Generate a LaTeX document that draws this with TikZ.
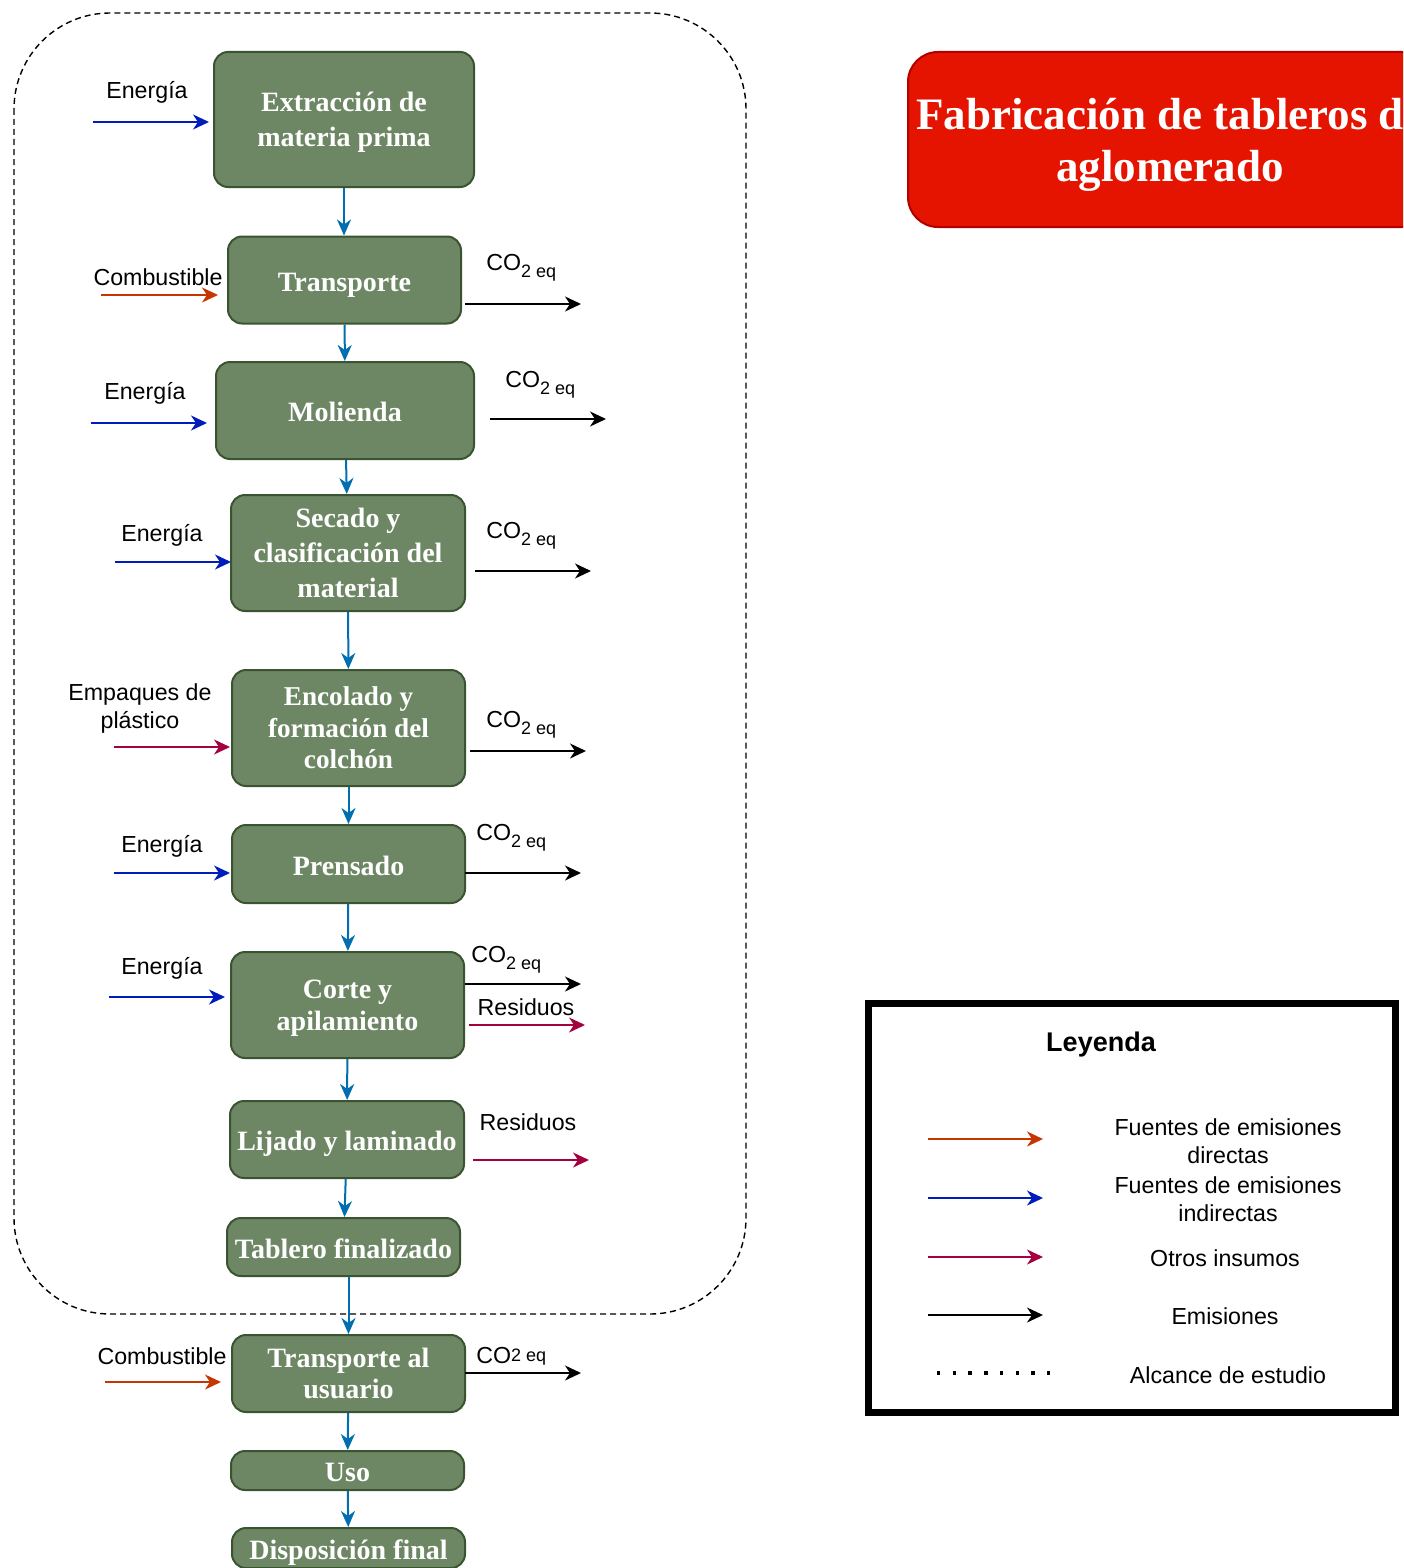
\documentclass[tikz,border=0pt]{standalone}
\usepackage{fontspec}
\setmainfont{Liberation Serif}
\newfontfamily\labelfont{Liberation Sans}
\usetikzlibrary{positioning}
\usetikzlibrary{arrows.meta}

\definecolor{boxfill}{HTML}{6D8764}
\definecolor{boxline}{HTML}{3A5431}
\definecolor{flowblue}{HTML}{006EAF}
\definecolor{energyblue}{HTML}{001DBC}
\definecolor{fuelorange}{HTML}{C73500}
\definecolor{otherred}{HTML}{A50040}
\definecolor{titlered}{HTML}{E51400}
\definecolor{titleline}{HTML}{B20000}

\newcommand{\coeq}{CO\raisebox{-3.5pt}{\fontsize{9}{9}\selectfont 2 eq}}

\begin{document}
\begin{tikzpicture}[x=0.5pt, y=-0.5pt,
		procbox/.style={draw=boxline, fill=boxfill, line width=1pt, rounded corners=7pt,
			inner sep=0pt, align=center, text=white, text depth=0pt,
			font=\fontsize{14}{15.75}\selectfont\bfseries},
		oneline/.style={text height=11pt},
		lbl/.style={align=center, inner sep=0pt, font=\labelfont\fontsize{11.6}{14}\selectfont},
		flow/.style={draw=flowblue, line width=1pt, -{Stealth[length=8pt, width=7pt, inset=2.5pt]}},
		feed/.style={line width=1pt, -{Stealth[length=8pt, width=7.5pt, inset=2.5pt]}}
	]
	\useasboundingbox (0,0) rectangle (1403,1568);

	\draw[line width=0.7pt, dash pattern=on 3pt off 2pt, rounded corners=48pt] (14,13) rectangle (746,1314);

	\begin{scope}
		\clip (0,0) rectangle (1403,1568);
		\node[draw=titleline, fill=titlered, line width=1pt, rounded corners=15pt, minimum width=262pt, minimum height=87.5pt,
			align=center, text=white, text depth=0pt, font=\fontsize{22.5}{26}\selectfont\bfseries] (title) at (1170,139.5)
			{Fabricación de tableros de\\aglomerado};
	\end{scope}

	\node[procbox, minimum width=130pt, minimum height=67.5pt, font=\fontsize{14}{17.5}\selectfont\bfseries] (ext) at (344,119.5) {Extracción de\\materia prima};
	\node[procbox, oneline, minimum width=116.5pt, minimum height=43.5pt] (trans) at (344.5,280) {Transporte};
	\node[procbox, oneline, minimum width=129pt, minimum height=48.5pt] (mol) at (345,410.5) {Molienda};
	\node[procbox, minimum width=117pt, minimum height=58pt, font=\fontsize{14}{17.5}\selectfont\bfseries] (sec) at (348,553) {Secado y\\clasificación del\\material};
	\node[procbox, minimum width=116.5pt, minimum height=58pt, font=\fontsize{13.6}{15.75}\selectfont\bfseries] (enc) at (348.5,728) {Encolado y\\formación del\\colchón};
	\node[procbox, oneline, minimum width=116.5pt, minimum height=39pt] (pren) at (348.5,864) {Prensado};
	\node[procbox, minimum width=116.5pt, minimum height=53pt] (corte) at (347.5,1005) {Corte y\\apilamiento};
	\node[procbox, oneline, minimum width=117pt, minimum height=38.5pt] (lij) at (347,1139.5) {Lijado y laminado};
	\node[procbox, oneline, minimum width=116.5pt, minimum height=29pt] (tab) at (343.5,1247) {Tablero finalizado};
	\node[procbox, minimum width=116.5pt, minimum height=38.5pt] (transu) at (348.5,1373.5) {Transporte al\\usuario};
	\node[procbox, oneline, minimum width=116.5pt, minimum height=19.5pt] (uso) at (347.5,1470.5) {Uso};
	\node[procbox, oneline, minimum width=116.5pt, minimum height=20pt] (disp) at (348.5,1548) {Disposición final};

	\draw[flow] (ext.south) -- (trans.north -| ext.south);
	\draw[flow] (trans) -- (mol);
	\draw[flow] (mol) -- (sec);
	\draw[flow] (sec) -- (enc);
	\draw[flow] (enc) -- (pren);
	\draw[flow] (pren) -- (corte);
	\draw[flow] (corte) -- (lij);
	\draw[flow] (lij) -- (tab);
	\draw[flow] (tab.south -| transu.north) -- (transu.north);
	\draw[flow] (transu) -- (uso);
	\draw[flow] (uso) -- (disp);

	\node[lbl] (l1) at (147,92) {Energía};
	\node[lbl] (l2) at (158,277) {Combustible};
	\node[lbl] (l3) at (145,393) {Energía};
	\node[lbl] (l4) at (162,535) {Energía};
	\node[lbl] (l5) at (140,708) {Empaques de\\plástico};
	\node[lbl] (l6) at (162,846) {Energía};
	\node[lbl] (l7) at (162,968) {Energía};
	\node[lbl] (l8) at (162,1356) {Combustible};

	\node[shape=coordinate] (i1a) at (93,122) {};
	\node[shape=coordinate] (i1b) at (209,122) {};
	\node[shape=coordinate] (i2a) at (101,295) {};
	\node[shape=coordinate] (i2b) at (218,295) {};
	\node[shape=coordinate] (i3a) at (91,423) {};
	\node[shape=coordinate] (i3b) at (207,423) {};
	\node[shape=coordinate] (i4a) at (115,562) {};
	\node[shape=coordinate] (i4b) at (231,562) {};
	\node[shape=coordinate] (i5a) at (114,747) {};
	\node[shape=coordinate] (i5b) at (230,747) {};
	\node[shape=coordinate] (i6a) at (114,873) {};
	\node[shape=coordinate] (i6b) at (230,873) {};
	\node[shape=coordinate] (i7a) at (109,997) {};
	\node[shape=coordinate] (i7b) at (225,997) {};
	\node[shape=coordinate] (i8a) at (105,1382) {};
	\node[shape=coordinate] (i8b) at (221,1382) {};

	\draw[feed, energyblue] (i1a) -- (i1b);
	\draw[feed, fuelorange] (i2a) -- (i2b);
	\draw[feed, energyblue] (i3a) -- (i3b);
	\draw[feed, energyblue] (i4a) -- (i4b);
	\draw[feed, otherred] (i5a) -- (i5b);
	\draw[feed, energyblue] (i6a) -- (i6b);
	\draw[feed, energyblue] (i7a) -- (i7b);
	\draw[feed, fuelorange] (i8a) -- (i8b);

	\node[lbl, anchor=west] (co1) at (486,268) {\coeq};
	\node[lbl, anchor=west] (co2) at (505,385) {\coeq};
	\node[lbl, anchor=west] (co3) at (486,536) {\coeq};
	\node[lbl, anchor=west] (co4) at (486,725) {\coeq};
	\node[lbl, anchor=west] (co5) at (476,838) {\coeq};
	\node[lbl, anchor=west] (co6) at (471,960) {\coeq};
	\node[lbl] (res1) at (526,1007) {Residuos};
	\node[lbl] (res2) at (528,1122) {Residuos};
	\node[lbl, anchor=west] (co7) at (476,1356) {CO\raisebox{1pt}{\fontsize{9}{9}\selectfont 2 eq}};

	\node[shape=coordinate] (o1a) at (465,304) {};
	\node[shape=coordinate] (o1b) at (581,304) {};
	\node[shape=coordinate] (o2a) at (490,419) {};
	\node[shape=coordinate] (o2b) at (606,419) {};
	\node[shape=coordinate] (o3a) at (475,571) {};
	\node[shape=coordinate] (o3b) at (591,571) {};
	\node[shape=coordinate] (o4a) at (470,751) {};
	\node[shape=coordinate] (o4b) at (586,751) {};
	\node[shape=coordinate] (o5a) at (465,873) {};
	\node[shape=coordinate] (o5b) at (581,873) {};
	\node[shape=coordinate] (o6a) at (465,984) {};
	\node[shape=coordinate] (o6b) at (581,984) {};
	\node[shape=coordinate] (o7a) at (469,1025) {};
	\node[shape=coordinate] (o7b) at (585,1025) {};
	\node[shape=coordinate] (o8a) at (473,1160) {};
	\node[shape=coordinate] (o8b) at (589,1160) {};
	\node[shape=coordinate] (o9a) at (465,1373) {};
	\node[shape=coordinate] (o9b) at (581,1373) {};

	\draw[feed, black] (o1a) -- (o1b);
	\draw[feed, black] (o2a) -- (o2b);
	\draw[feed, black] (o3a) -- (o3b);
	\draw[feed, black] (o4a) -- (o4b);
	\draw[feed, black] (o5a) -- (o5b);
	\draw[feed, black] (o6a) -- (o6b);
	\draw[feed, otherred] (o7a) -- (o7b);
	\draw[feed, otherred] (o8a) -- (o8b);
	\draw[feed, black] (o9a) -- (o9b);

	\node[draw, line width=3.5pt, minimum width=263.5pt, minimum height=204.5pt] (leg) at (1132,1208) {};
	\node[lbl, font=\labelfont\bfseries\fontsize{13.5}{16}\selectfont] (legtitle) at (1101,1045) {Leyenda};
	\node[shape=coordinate] (k1a) at (928,1139) {};
	\node[shape=coordinate] (k1b) at (1043,1139) {};
	\node[shape=coordinate] (k2a) at (928,1198) {};
	\node[shape=coordinate] (k2b) at (1043,1198) {};
	\node[shape=coordinate] (k3a) at (928,1257) {};
	\node[shape=coordinate] (k3b) at (1043,1257) {};
	\node[shape=coordinate] (k4a) at (928,1315) {};
	\node[shape=coordinate] (k4b) at (1043,1315) {};
	\node[shape=coordinate] (k5a) at (937,1373) {};
	\node[shape=coordinate] (k5b) at (1050,1373) {};
	\draw[feed, fuelorange] (k1a) -- (k1b);
	\draw[feed, energyblue] (k2a) -- (k2b);
	\draw[feed, otherred] (k3a) -- (k3b);
	\draw[feed, black] (k4a) -- (k4b);
	\draw[line width=1.7pt, dash pattern=on 1.7pt off 6.15pt] (k5a) -- (k5b);
	\node[lbl] (t1) at (1228,1141) {Fuentes de emisiones\\directas};
	\node[lbl] (t2) at (1228,1199) {Fuentes de emisiones\\indirectas};
	\node[lbl] (t3) at (1225,1258) {Otros insumos};
	\node[lbl] (t4) at (1225,1316) {Emisiones};
	\node[lbl] (t5) at (1228,1375) {Alcance de estudio};
\end{tikzpicture}
\end{document}
